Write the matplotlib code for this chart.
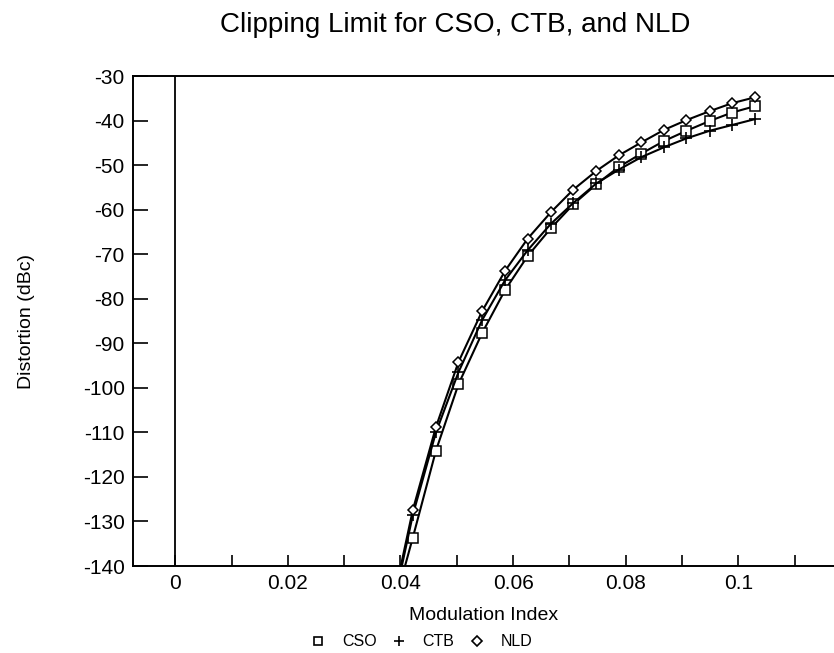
import matplotlib
matplotlib.use("Agg")
import matplotlib.pyplot as plt
from matplotlib.lines import Line2D
from matplotlib.ticker import MultipleLocator

plt.rcParams['font.family'] = ['Liberation Sans', 'DejaVu Sans']
plt.rcParams['axes.unicode_minus'] = False

# modulation index (first value lies below the plotted range)
mod_index = [0.0382, 0.0422, 0.0463, 0.0503, 0.0545, 0.0586, 0.0626, 0.0667,
             0.0707, 0.0748, 0.0788, 0.0828, 0.0868, 0.0908, 0.0949, 0.0989, 0.1029]
cso = [-152, -133.6, -114.1, -99.2, -87.7, -78.0, -70.4, -64.2,
       -58.8, -54.3, -50.4, -47.4, -44.6, -42.3, -40.1, -38.2, -36.8]
ctb = [-152, -128.5, -110.0, -96.5, -84.8, -75.8, -69.1, -63.2,
       -58.5, -54.1, -51.0, -48.2, -46.0, -44.0, -42.3, -41.0, -39.7]
nld = [-151, -127.4, -108.8, -94.2, -82.8, -73.7, -66.5, -60.6,
       -55.5, -51.3, -47.8, -44.9, -42.1, -39.9, -37.9, -36.1, -34.8]

x_ticks = [0, 0.02, 0.04, 0.06, 0.08, 0.1]
x_tick_labels = ["0", "0.02", "0.04", "0.06", "0.08", "0.1"]
y_ticks = [-30, -40, -50, -60, -70, -80, -90, -100, -110, -120, -130, -140]

fig = plt.figure(figsize=(8.34, 6.53), dpi=100)
ax = fig.add_axes([0.1595, 0.1332, 0.8405, 0.7504])

ax.axvline(0, color='black', lw=1.3, zorder=1)

every = range(1, len(mod_index))
ax.plot(mod_index, cso, color='black', lw=1.5, marker='s', ms=7,
        mfc='white', mec='black', mew=1.1, markevery=every)
ax.plot(mod_index, ctb, color='black', lw=1.5, marker='+', ms=9,
        mew=1.2, markevery=every)
ax.plot(mod_index, nld, color='black', lw=1.5, marker='D', ms=5,
        mfc='white', mec='black', mew=1.1, markevery=every)

ax.set_xlim(-0.0075, 0.117)
ax.set_ylim(-140, -30)
ax.set_xticks(x_ticks)
ax.set_xticklabels(x_tick_labels)
ax.xaxis.set_minor_locator(MultipleLocator(0.01))
ax.set_yticks(y_ticks)

ax.tick_params(axis='x', which='both', direction='in', length=8, width=1.2,
               labelsize=15, pad=6)
ax.tick_params(axis='y', direction='in', length=11, width=1.2, labelsize=15, pad=6)

ax.spines['right'].set_visible(False)
for s in ['left', 'top', 'bottom']:
    ax.spines[s].set_linewidth(1.4)

ax.set_xlabel("Modulation Index", fontsize=14, labelpad=10)
ax.set_ylabel("Distortion (dBc)", fontsize=14, labelpad=34)

fig.text(0.546, 0.962, "Clipping Limit for CSO, CTB, and NLD", fontsize=20,
         ha='center', va='center')

leg_handles = [
    Line2D([], [], ls='none', marker='s', ms=6, mfc='white', mec='black', mew=1.2),
    Line2D([], [], ls='none', marker='+', ms=7, mec='black', mew=1.2),
    Line2D([], [], ls='none', marker='D', ms=5, mfc='white', mec='black', mew=1.2),
]
fig.legend(leg_handles, ["CSO", "CTB", "NLD"], loc='center', bbox_to_anchor=(0.507, 0.017),
           ncol=3, frameon=False, fontsize=11.5, handlelength=0.6, columnspacing=1.1,
           handletextpad=1.2)

fig.savefig("out.png", dpi=100)
